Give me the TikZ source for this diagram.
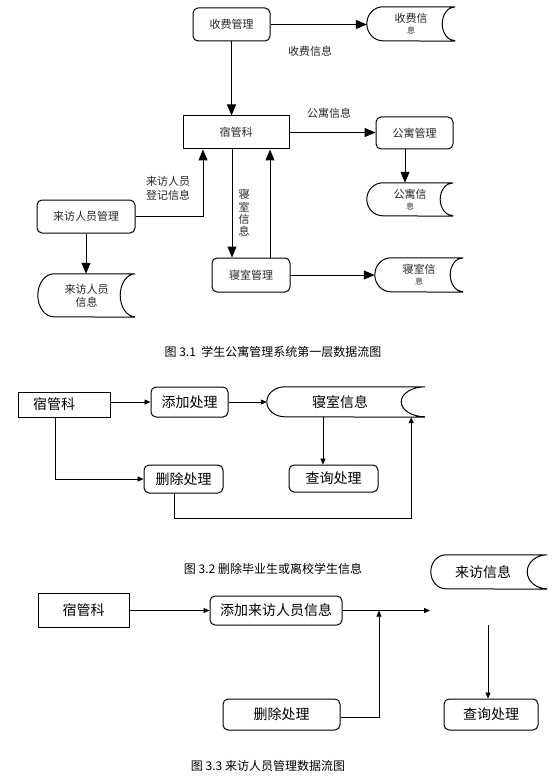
\documentclass[tikz,border=0pt]{standalone}
\usepackage{fontspec}
\setmainfont{Noto Sans CJK SC}
\usetikzlibrary{arrows.meta,calc}

\tikzset{
  topfont/.style={font=\fontsize{11}{13}\selectfont, text=black!85},
  midfont/.style={font=\fontsize{14}{16}\selectfont},
  capfont/.style={font=\fontsize{12}{14}\selectfont},
  rbox/.style={draw, rounded corners=5pt, line width=1pt, inner sep=0pt, align=center},
  sbox/.style={draw, line width=1pt, inner sep=0pt, align=center},
  stnode/.style={inner sep=0pt, align=center},
  bigarrow/.style={-{Triangle[length=11pt,width=9pt]}, line width=1pt},
  smallarrow/.style={-{Triangle[length=6pt,width=5pt]}, line width=0.9pt},
  plainline/.style={line width=1pt},
}

% name, left bulge radius, right concave depth, half height
\newcommand{\storeframe}[4]{%
  \draw[plainline] (#1.north east) -- ([xshift=#2]#1.north west)
    arc[start angle=90, end angle=270, x radius=#2, y radius=#4]
    -- (#1.south east)
    (#1.north east) arc[start angle=90, end angle=270, x radius=#3, y radius=#4];}

\begin{document}
\begin{tikzpicture}[x=1pt, y=-1pt]
\useasboundingbox (0,0) rectangle (559,778);

%================ Figure 3.1 ================
\node[rbox, topfont, minimum width=77pt, minimum height=33pt] (sf) at (231.5,24.5) {收费管理};
\node[stnode, topfont, minimum width=88pt, minimum height=34pt] (sfs) at (411,24) {收费信\\[-2pt]{\fontsize{8}{9}\selectfont 息}};
\storeframe{sfs}{16pt}{13pt}{17pt}
\node[topfont] (lsf) at (310,51) {收费信息};

\node[sbox, topfont, minimum width=106pt, minimum height=33pt] (sgk) at (236,132.5) {宿管科};
\node[topfont] (lgy) at (329,113) {公寓信息};
\node[rbox, topfont, minimum width=77pt, minimum height=32pt] (gygl) at (414.5,133) {公寓管理};
\node[stnode, topfont, minimum width=86pt, minimum height=33pt] (gyxx) at (410,199.5) {公寓信\\[-2pt]{\fontsize{8}{9}\selectfont 息}};
\storeframe{gyxx}{16pt}{13pt}{16.5pt}

\node[rbox, topfont, minimum width=78pt, minimum height=34pt] (qsgl) at (251,275) {寝室管理};
\node[stnode, topfont, minimum width=88pt, minimum height=34pt] (qsxx) at (419,275) {寝室信\\[-2pt]{\fontsize{8}{9}\selectfont 息}};
\storeframe{qsxx}{16pt}{13pt}{17pt}
\node[topfont, align=center, font=\fontsize{11}{12.3}\selectfont] (lqs) at (244,213) {寝\\室\\信\\息};

\node[rbox, topfont, minimum width=98pt, minimum height=33pt] (lfgl) at (86,216.5) {来访人员管理};
\node[stnode, topfont, minimum width=97pt, minimum height=43pt] (lfxx) at (86.5,295.5) {来访人员\\信息};
\storeframe{lfxx}{16pt}{15pt}{21.5pt}
\node[topfont, align=center, font=\fontsize{11}{13.5}\selectfont] (llf) at (168,188.5) {来访人员\\登记信息};

\draw[bigarrow] (sf.east) -- (sf.east -| sfs.west);
\draw[bigarrow] (sf.south) -- (sf.south |- sgk.north);
\draw[bigarrow] (sgk.east) -- (sgk.east -| gygl.west);
\draw[bigarrow] ([xshift=-9.5pt]gygl.south) -- ([xshift=-9.5pt]gygl.south |- gyxx.north);
\draw[bigarrow] ([xshift=-4pt]sgk.south) -- ([xshift=-4pt]sgk.south |- qsgl.north);
\draw[bigarrow] ([xshift=19pt]qsgl.north) -- ([xshift=19pt]qsgl.north |- sgk.south);
\draw[bigarrow] (qsgl.east) -- (qsgl.east -| qsxx.west);
\draw[bigarrow] (lfgl.east) -| ([xshift=-33pt]sgk.south);
\draw[bigarrow] (lfgl.south) -- (lfgl.south |- lfxx.north);

\node[capfont] (cap1) at (273,352) {图 3.1\ \ 学生公寓管理系统第一层数据流图};

%================ Figure 3.2 ================
\node[sbox, midfont, minimum width=92pt, minimum height=25pt, text width=62pt, inner xsep=15pt, align=left] (msgk) at (64,404.5) {宿管科};
\node[rbox, midfont, minimum width=77pt, minimum height=30pt] (tjcl) at (189.5,402) {添加处理};
\node[stnode, midfont, minimum width=158pt, minimum height=30pt] (qs2) at (346,402) {\hspace*{-12pt}寝室信息};
\storeframe{qs2}{18pt}{24pt}{15pt}
\node[rbox, midfont, minimum width=89pt, minimum height=27pt] (cxcl) at (333.5,478.5) {查询处理};
\node[rbox, midfont, minimum width=79pt, minimum height=28pt] (sccl) at (183.5,479) {删除处理};

\draw[smallarrow] (tjcl.west -| msgk.east) -- (tjcl.west);
\draw[smallarrow] (tjcl.east) -- (qs2.west);
\draw[smallarrow] ([xshift=-23pt]qs2.south) -- ([xshift=-23pt]qs2.south |- cxcl.north);
\draw[smallarrow] ([xshift=-9pt]msgk.south) |- (sccl.west);
\draw[smallarrow] ([xshift=-9.5pt]sccl.south) -- ++(0,25) -| ([xshift=-14pt]qs2.south east);

\node[capfont] (cap2) at (273,569) {图 3.2\ 删除毕业生或离校学生信息};

%================ Figure 3.3 ================
\node[sbox, midfont, minimum width=91pt, minimum height=34pt] (bsgk) at (83.5,610.5) {宿管科};
\node[rbox, midfont, minimum width=132pt, minimum height=29pt] (tjlf) at (276,610.5) {添加来访人员信息};
\coordinate (tjend) at (430,610.5);
\node[stnode, midfont, minimum width=116pt, minimum height=34pt] (lfxx2) at (489,572) {\hspace*{-12pt}来访信息};
\storeframe{lfxx2}{15pt}{20pt}{17pt}
\node[rbox, midfont, minimum width=117pt, minimum height=31pt] (sccl2) at (281.5,714.5) {删除处理};
\node[rbox, midfont, minimum width=94pt, minimum height=31pt] (cxcl2) at (491,714.5) {查询处理};
\coordinate (cxstart) at (488,625);
\coordinate (upend) at (379,610.5);

\draw[smallarrow] (tjlf.west -| bsgk.east) -- (tjlf.west);
\draw[smallarrow] (tjlf.east) -- (tjend);
\draw[smallarrow] ([yshift=-2.5pt]sccl2.east) -| (upend);
\draw[smallarrow] (cxstart) -- (cxstart |- cxcl2.north);

\node[capfont] (cap3) at (268,766) {图 3.3\ 来访人员管理数据流图};
\end{tikzpicture}
\end{document}
